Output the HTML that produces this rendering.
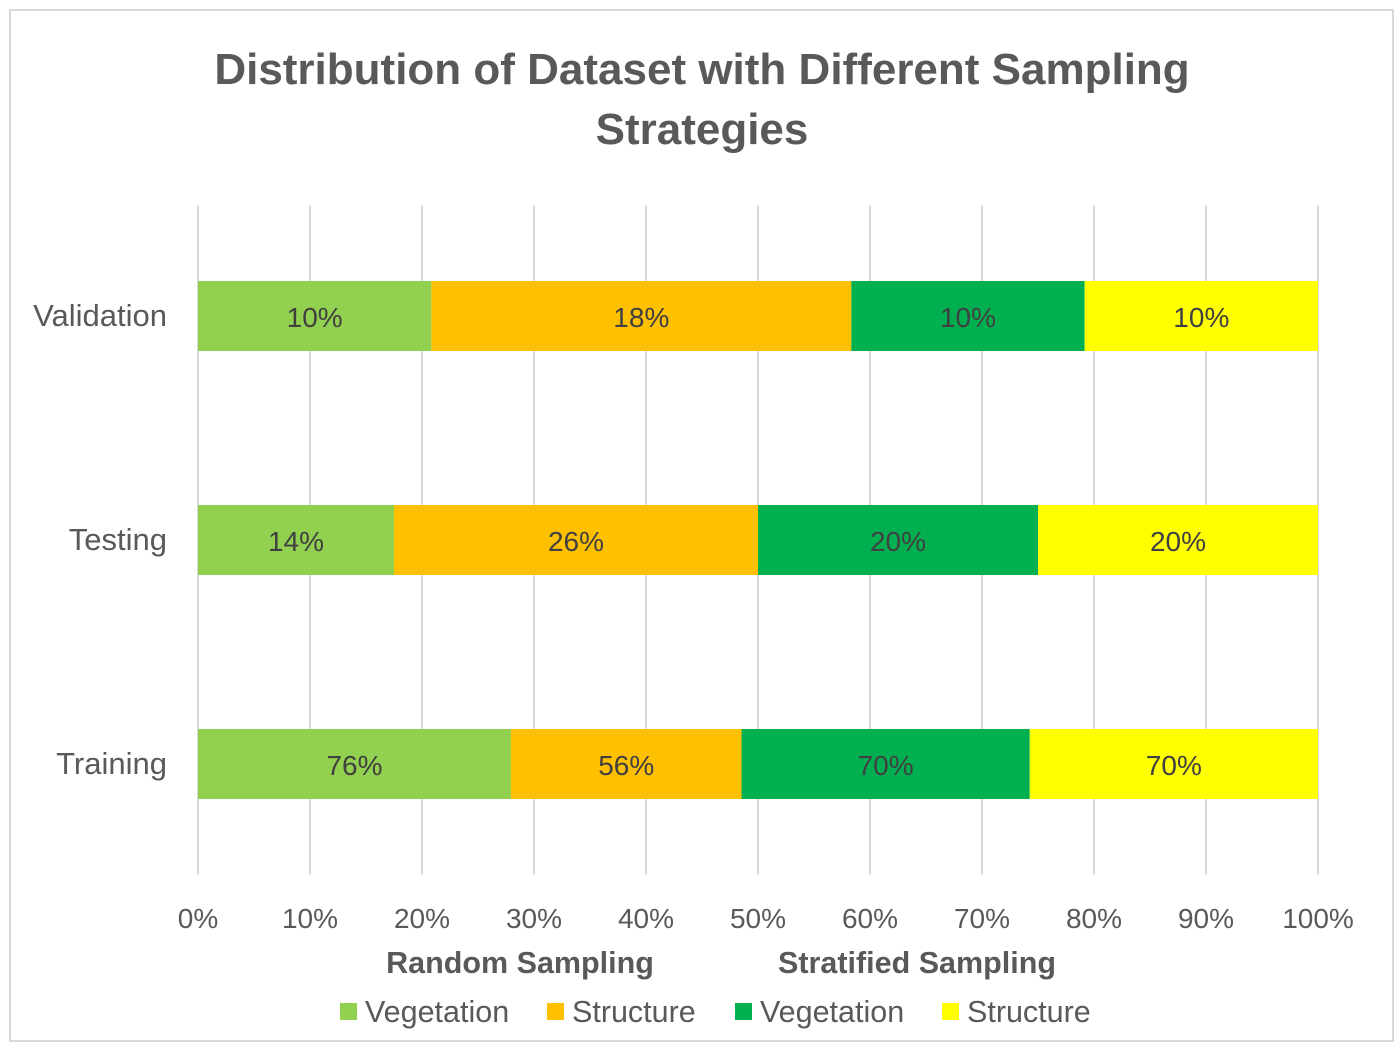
<!DOCTYPE html>
<html><head><meta charset="utf-8">
<style>
html,body{margin:0;padding:0;background:#fff;}
body{width:1400px;height:1048px;position:relative;overflow:hidden;font-family:"Liberation Sans",sans-serif;}
#frame{position:absolute;left:9px;top:9px;width:1385px;height:1033px;border:2px solid #d9d9d9;box-sizing:border-box;}
svg{position:absolute;left:0;top:0;}
</style></head>
<body>
<div id="frame"></div>
<svg id="chart" width="1400" height="1048">
  <text x="702" y="84" text-anchor="middle" font-size="44" font-weight="bold" fill="#595959">Distribution of Dataset with Different Sampling</text>
  <text x="702" y="144" text-anchor="middle" font-size="44" font-weight="bold" fill="#595959">Strategies</text>
  <g id="grid"></g>
  <g id="bars"></g>
  <g id="ticks"></g>
  <text x="520" y="973" text-anchor="middle" font-size="30.5" font-weight="bold" fill="#595959">Random Sampling</text>
  <text x="917" y="973" text-anchor="middle" font-size="30.5" font-weight="bold" fill="#595959">Stratified Sampling</text>
  <g id="legend"></g>
</svg>
<script>
const categories = ["Validation","Testing","Training"];
const seriesNames = ["Vegetation","Structure","Vegetation","Structure"];
const randVeg = [10,14,76];
const randStruct = [18,26,56];
const stratVeg = [10,20,70];
const stratStruct = [10,20,70];
const tickLabels = ["0%","10%","20%","30%","40%","50%","60%","70%","80%","90%","100%"];
const colors = ["#92d050","#ffc000","#00b050","#ffff00"];

const NS="http://www.w3.org/2000/svg";
const x0=198,x1=1318,yTop=205,yBot=875;
const rowCenters={Validation:316,Testing:540,Training:764};
const barH=70;
function xScale(p){return x0+(x1-x0)*p/100;}
function mk(tag,attrs,parent){const e=document.createElementNS(NS,tag);for(const k in attrs)e.setAttribute(k,attrs[k]);parent.appendChild(e);return e;}

const grid=document.getElementById('grid'),ticks=document.getElementById('ticks');
tickLabels.forEach((t,i)=>{
  const x=xScale(i*10);
  const l=mk('line',{x1:x,x2:x,y1:yTop,y2:yBot,stroke:'#d9d9d9','stroke-width':2},grid);
  
  
  const tx=mk('text',{x:x,y:928,'text-anchor':'middle','font-size':28,fill:'#595959'},ticks);
  tx.textContent=t;
  
  
});

const bars=document.getElementById('bars');
const series=[randVeg,randStruct,stratVeg,stratStruct];
categories.forEach((c,ci)=>{
  const cy=rowCenters[c];
  const lab=mk('text',{x:167,y:cy+10,'text-anchor':'end','font-size':31,fill:'#595959'},bars);
  lab.textContent=c;
  
  
  const total=series.reduce((s,a)=>s+a[ci],0);
  let cum=0;
  series.forEach((arr,si)=>{
    const v=arr[ci];
    const xa=xScale(cum/total*100), xb=xScale((cum+v)/total*100);
    const r=mk('rect',{x:xa,y:cy-barH/2,width:xb-xa,height:barH,fill:colors[si]},bars);
    
    
    const t=mk('text',{x:(xa+xb)/2,y:cy+11,'text-anchor':'middle','font-size':28,fill:'#404040'},bars);
    t.textContent=v+'%';
    
    
    cum+=v;
  });
});

const legend=document.getElementById('legend');
const legX=[340,547,735,942];
seriesNames.forEach((n,i)=>{
  const r=mk('rect',{x:legX[i],y:1003,width:17,height:17,fill:colors[i]},legend);
  
  
  const t=mk('text',{x:legX[i]+25,y:1022,'font-size':30.5,fill:'#595959'},legend);
  t.textContent=n;
  
  
});
</script>
</body></html>
